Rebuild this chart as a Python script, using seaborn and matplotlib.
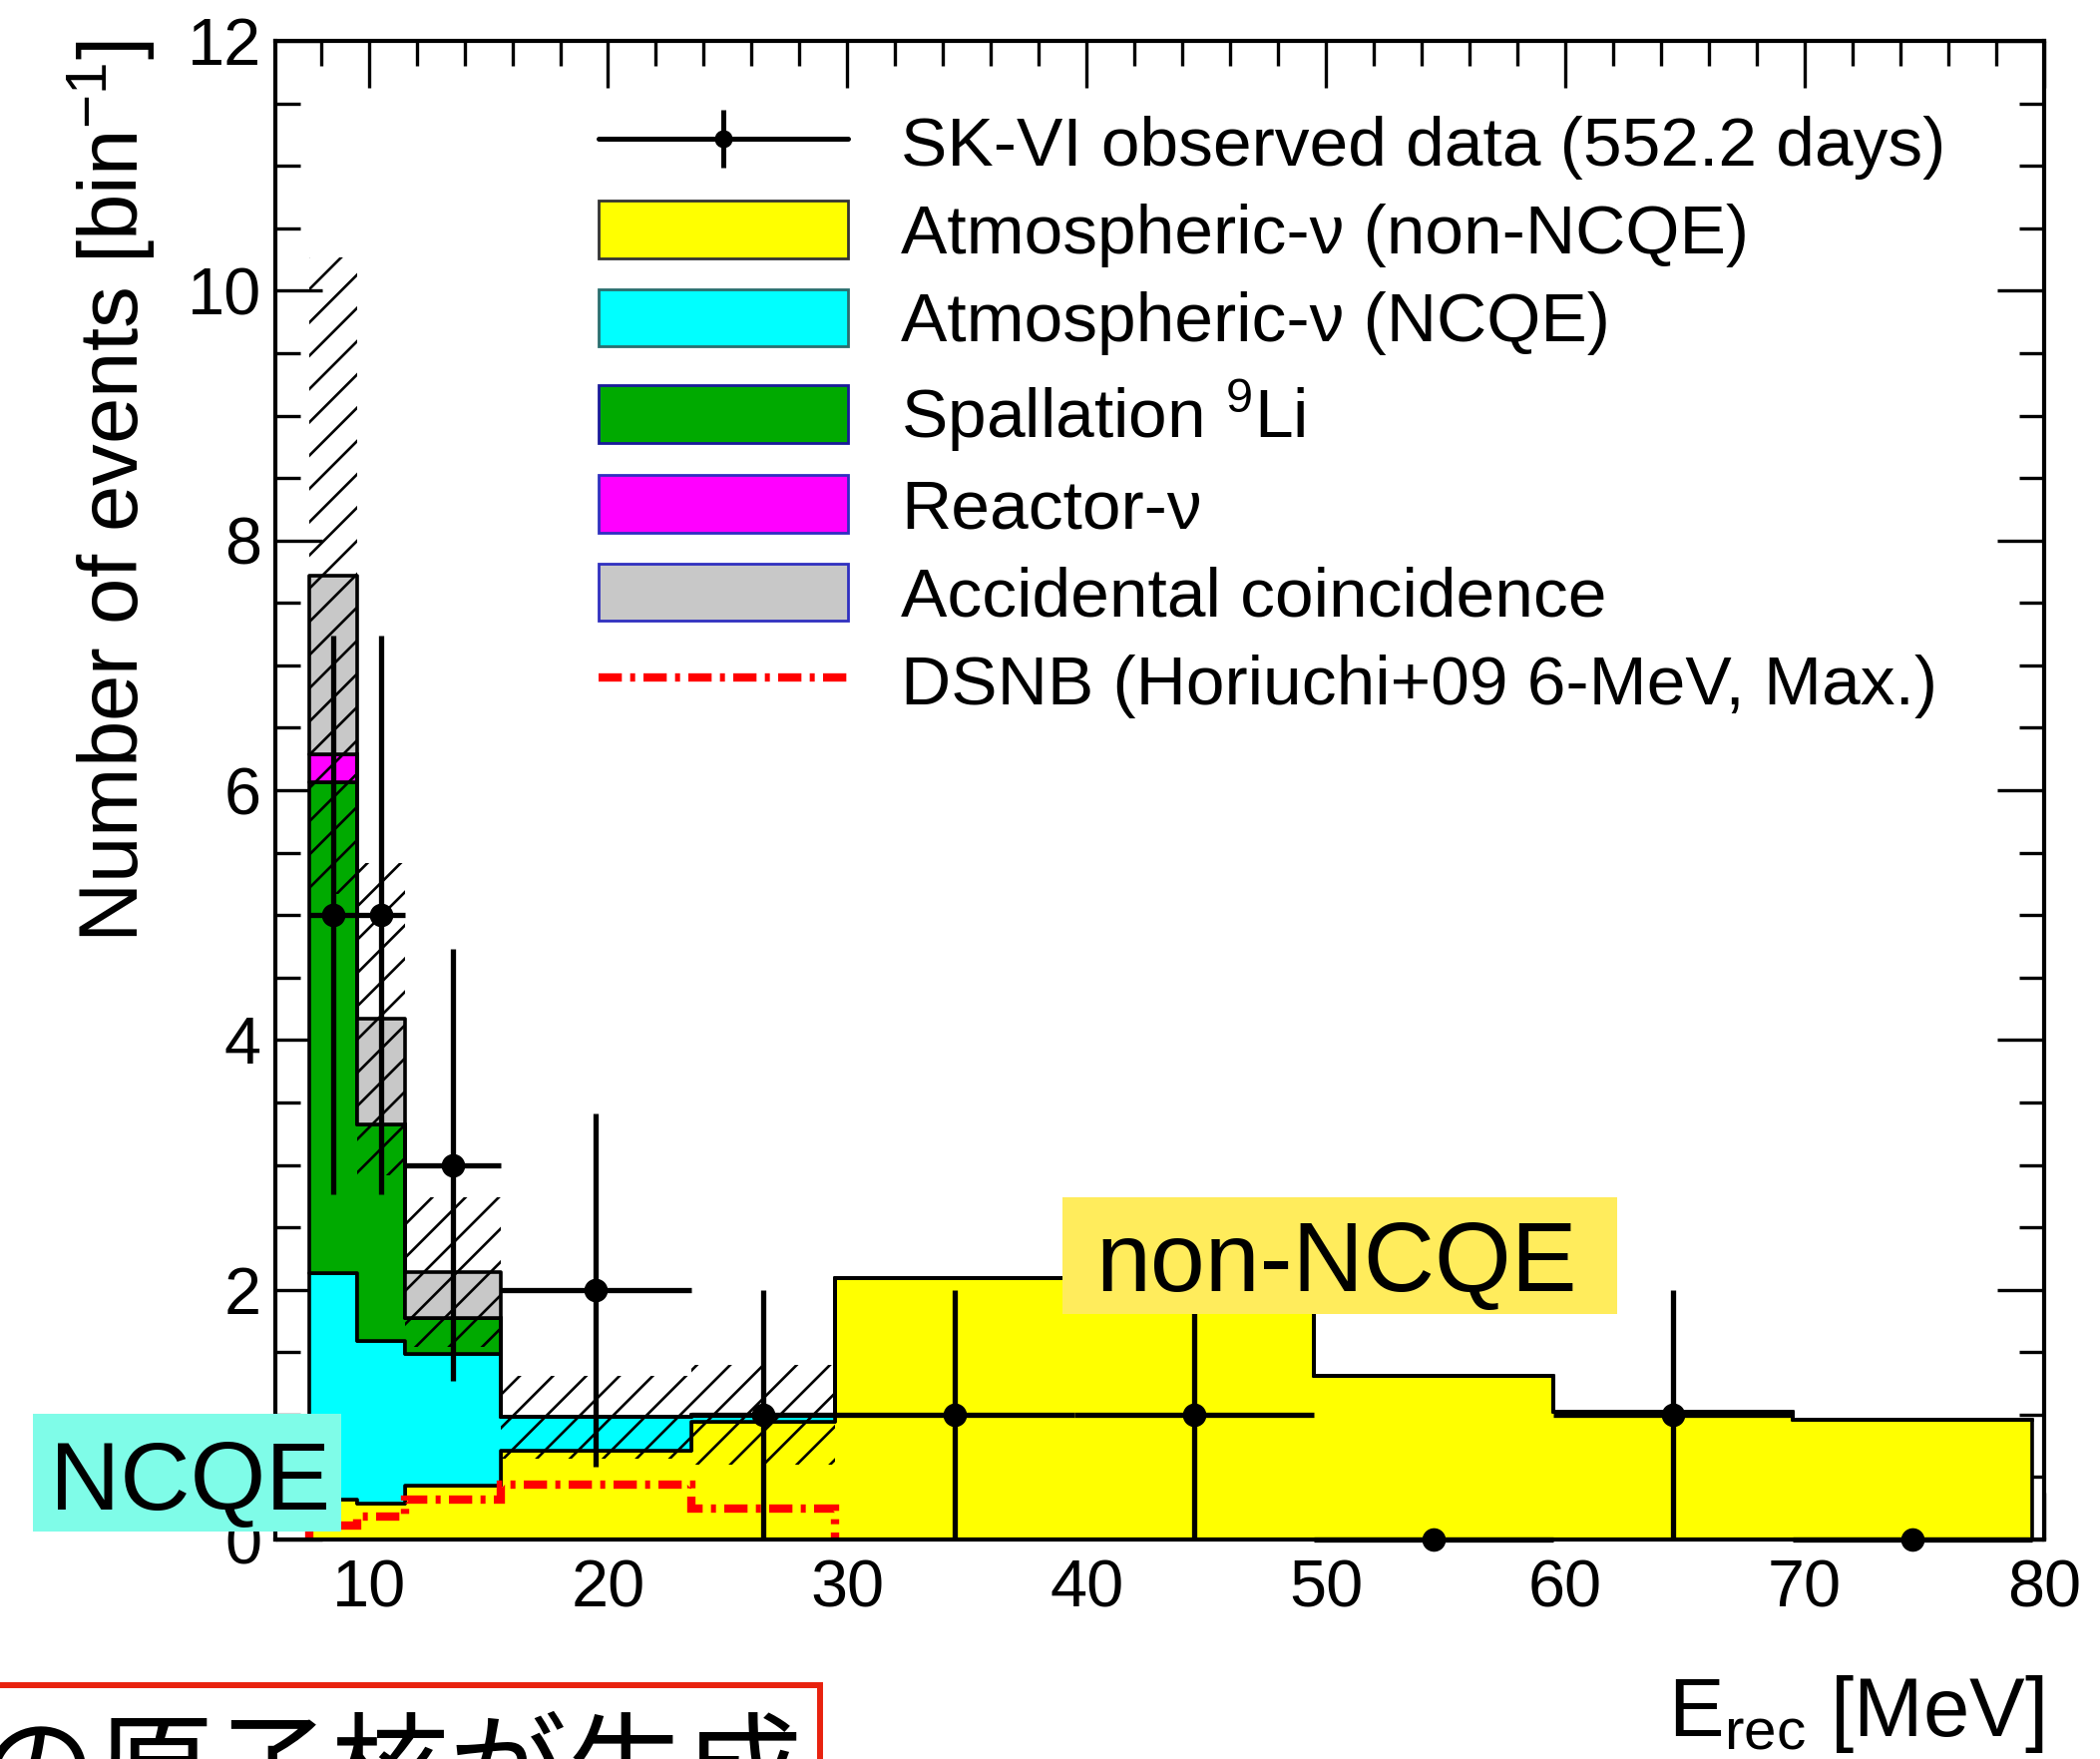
import numpy as np
import pandas as pd
import matplotlib
matplotlib.use("Agg")
import matplotlib.pyplot as plt
import seaborn as sns
from matplotlib.patches import Patch, Rectangle
from matplotlib.lines import Line2D
from matplotlib.legend_handler import HandlerTuple
from matplotlib.ticker import MultipleLocator, FixedLocator

# ---------------- data ----------------
bin_edges = [7.5, 9.5, 11.5, 15.5, 23.5, 29.5, 49.5, 59.5, 69.5, 79.5]
atm_non_ncqe = [0.32, 0.29, 0.43, 0.71, 0.94, 2.09, 1.31, 1.02, 0.96]
atm_ncqe = [1.81, 1.30, 1.06, 0.27, 0.06, 0.0, 0.0, 0.0, 0.0]
spallation_li9 = [3.93, 1.73, 0.28, 0.0, 0.0, 0.0, 0.0, 0.0, 0.0]
reactor_nu = [0.23, 0.0, 0.0, 0.0, 0.0, 0.0, 0.0, 0.0, 0.0]
accidental = [1.43, 0.85, 0.37, 0.0, 0.0, 0.0, 0.0, 0.0, 0.0]
syst_band = [2.55, 1.25, 0.60, 0.33, 0.40]   # half-width of hatched band (first bins)

dsnb_edges = [7.5, 9.5, 11.5, 15.5, 23.5, 29.5]
dsnb_max = [0.11, 0.18, 0.32, 0.44, 0.25]

data_x = [8.5, 10.5, 13.5, 19.5, 26.5, 34.5, 44.5, 54.5, 64.5, 74.5]
data_xerr = [1, 1, 2, 4, 3, 5, 5, 5, 5, 5]
data_n = [5, 5, 3, 2, 1, 1, 1, 0, 1, 0]

x_ticks = [10, 20, 30, 40, 50, 60, 70, 80]
y_ticks = [0, 2, 4, 6, 8, 10, 12]

comp_labels = ["Atmospheric-\u03bd (non-NCQE)", "Atmospheric-\u03bd (NCQE)",
               "Spallation $^{9}$Li", "Reactor-\u03bd", "Accidental coincidence"]
data_label = "SK-VI observed data (552.2 days)"
dsnb_label = "DSNB (Horiuchi+09 6-MeV, Max.)"
comp_colors = ["#ffff00", "#00ffff", "#00aa00", "#ff00ff", "#c8c8c8"]
legend_edges = ["#333333", "#2a6f6f", "#1a1a9a", "#3030c0", "#3030c0"]

# ---------------- style ----------------
sns.set_theme(style="ticks")
plt.rcParams["font.family"] = ["Liberation Sans", "DejaVu Sans"]
plt.rcParams["mathtext.fontset"] = "custom"
plt.rcParams["mathtext.rm"] = "Liberation Sans"
plt.rcParams["mathtext.it"] = "Liberation Sans:italic"
plt.rcParams["mathtext.default"] = "regular"
plt.rcParams["hatch.linewidth"] = 1.9
plt.rcParams["hatch.color"] = "black"
for key in ["text.color", "axes.labelcolor", "xtick.color", "ytick.color",
            "xtick.labelcolor", "ytick.labelcolor", "axes.edgecolor"]:
    plt.rcParams[key] = "black"

fig = plt.figure(figsize=(21.05, 17.63), dpi=100)
W, H = 2105.0, 1763.0
ax = fig.add_axes([276 / W, 1 - 1543 / H, 1773 / W, 1502 / H])

# ---------------- stacked MC (seaborn) ----------------
edges = np.array(bin_edges)
centers = (edges[:-1] + edges[1:]) / 2
series = [atm_non_ncqe, atm_ncqe, spallation_li9, reactor_nu, accidental]
rows = []
for lab, vals in zip(comp_labels, series):
    for c, v in zip(centers, vals):
        rows.append({"E": float(c), "w": float(v), "comp": lab})
df = pd.DataFrame(rows)
stack_order = comp_labels[::-1]   # seaborn stacks the last hue level at the bottom
sns.histplot(data=df, x="E", weights="w", hue="comp", hue_order=stack_order,
             multiple="stack", bins=list(bin_edges), element="step", fill=True,
             palette=dict(zip(comp_labels, comp_colors)), alpha=1,
             edgecolor="black", linewidth=2.6, legend=False, ax=ax)

# hatched uncertainty band
total = np.sum(np.array(series), axis=0)
band = np.array(syst_band)
nb = len(band)
ax.bar(edges[:nb], 2 * band, bottom=total[:nb] - band, width=np.diff(edges)[:nb],
       align="edge", facecolor="none", edgecolor="black", hatch="/", linewidth=0,
       zorder=2)

# DSNB prediction
dsnb_ls = (0, (2.8, 1.0, 0.6, 1.0))
ax.stairs(dsnb_max, dsnb_edges, baseline=0, color="red", linewidth=6,
          linestyle=dsnb_ls, zorder=2.3)

# observed data
n = np.array(data_n, dtype=float)
cont = ax.errorbar(data_x, n, xerr=data_xerr, yerr=np.sqrt(n), fmt="o",
                   color="black", ms=16, elinewidth=3.8, capsize=0, zorder=4)
cont[0].set_clip_on(False)
for coll in cont[2]:
    coll.set_clip_on(False)

# ---------------- axes ----------------
ax.set_xlim(6.1, 80)
ax.set_ylim(0, 12)
ax.xaxis.set_major_locator(FixedLocator(x_ticks))
ax.yaxis.set_major_locator(FixedLocator(y_ticks))
ax.xaxis.set_minor_locator(MultipleLocator(2))
ax.yaxis.set_minor_locator(MultipleLocator(0.5))
ax.tick_params(which="both", direction="in", top=True, right=True, width=2.4,
               color="black", labelcolor="black", labelsize=48)
ax.tick_params(which="major", length=34)
ax.tick_params(which="minor", length=18)
ax.tick_params(axis="x", pad=14)
ax.tick_params(axis="y", pad=10)
for s in ax.spines.values():
    s.set_linewidth(3)
    s.set_color("black")
    s.set_zorder(5)

ax.set_ylabel("Number of events [bin$^{-1}$]", fontsize=60, loc="top", color="black")
ax.yaxis.set_label_coords(-0.0666, 1.0)
ax.set_xlabel("E$_{\\mathrm{rec}}$ [MeV]", fontsize=60, loc="right", color="black")
ax.xaxis.set_label_coords(1.0, -0.089)

# ---------------- legend ----------------
data_handle = (Line2D([], [], color="black", lw=3.6, marker="o", ms=12),
               Line2D([], [], color="black", lw=0, marker="|", ms=42, mew=3.6))
handles = [data_handle]
for col, ec in zip(comp_colors, legend_edges):
    handles.append(Patch(facecolor=col, edgecolor=ec, linewidth=2))
handles.append(Line2D([], [], color="red", lw=6, linestyle=dsnb_ls))
labels = [data_label] + comp_labels + [dsnb_label]
leg = ax.legend(handles, labels, handler_map={tuple: HandlerTuple(ndivide=1, pad=0)},
                loc="upper left", bbox_to_anchor=(600 / W, 1 - 113 / H),
                bbox_transform=fig.transFigure, frameon=False, fontsize=50,
                handlelength=3.6, handleheight=0.9, handletextpad=0.76,
                labelspacing=0.31, borderpad=0, borderaxespad=0)
for t in leg.get_texts():
    t.set_color("black")

# ---------------- annotation boxes ----------------
fig.add_artist(Rectangle((33 / W, 1 - 1535 / H), 309 / W, 118 / H,
                         transform=fig.transFigure, facecolor="#7ffce8",
                         edgecolor="none", zorder=10))
fig.text(50 / W, 1 - 1513 / H, "NCQE", fontsize=70, ha="left", va="baseline",
         color="black", zorder=11)
fig.add_artist(Rectangle((1065 / W, 1 - 1317 / H), 556 / W, 117 / H,
                         transform=fig.transFigure, facecolor="#ffec5c",
                         edgecolor="none", zorder=10))
fig.text(1098 / W, 1 - 1294 / H, "non-NCQE", fontsize=71, ha="left", va="baseline",
         color="black", zorder=11)

fig.add_artist(Rectangle((-10 / W, -100 / H), 832 / W, (1763 - 1689 + 100) / H,
                         transform=fig.transFigure, facecolor="white",
                         edgecolor="#e8220f", linewidth=4.3, zorder=10))
fig.text(805 / W, 1 - 1814 / H, "の原子核が生成", fontsize=85, ha="right",
         va="baseline", family=["Noto Sans CJK JP", "DejaVu Sans"], color="black",
         zorder=11)

fig.savefig("out.png", dpi=100)
